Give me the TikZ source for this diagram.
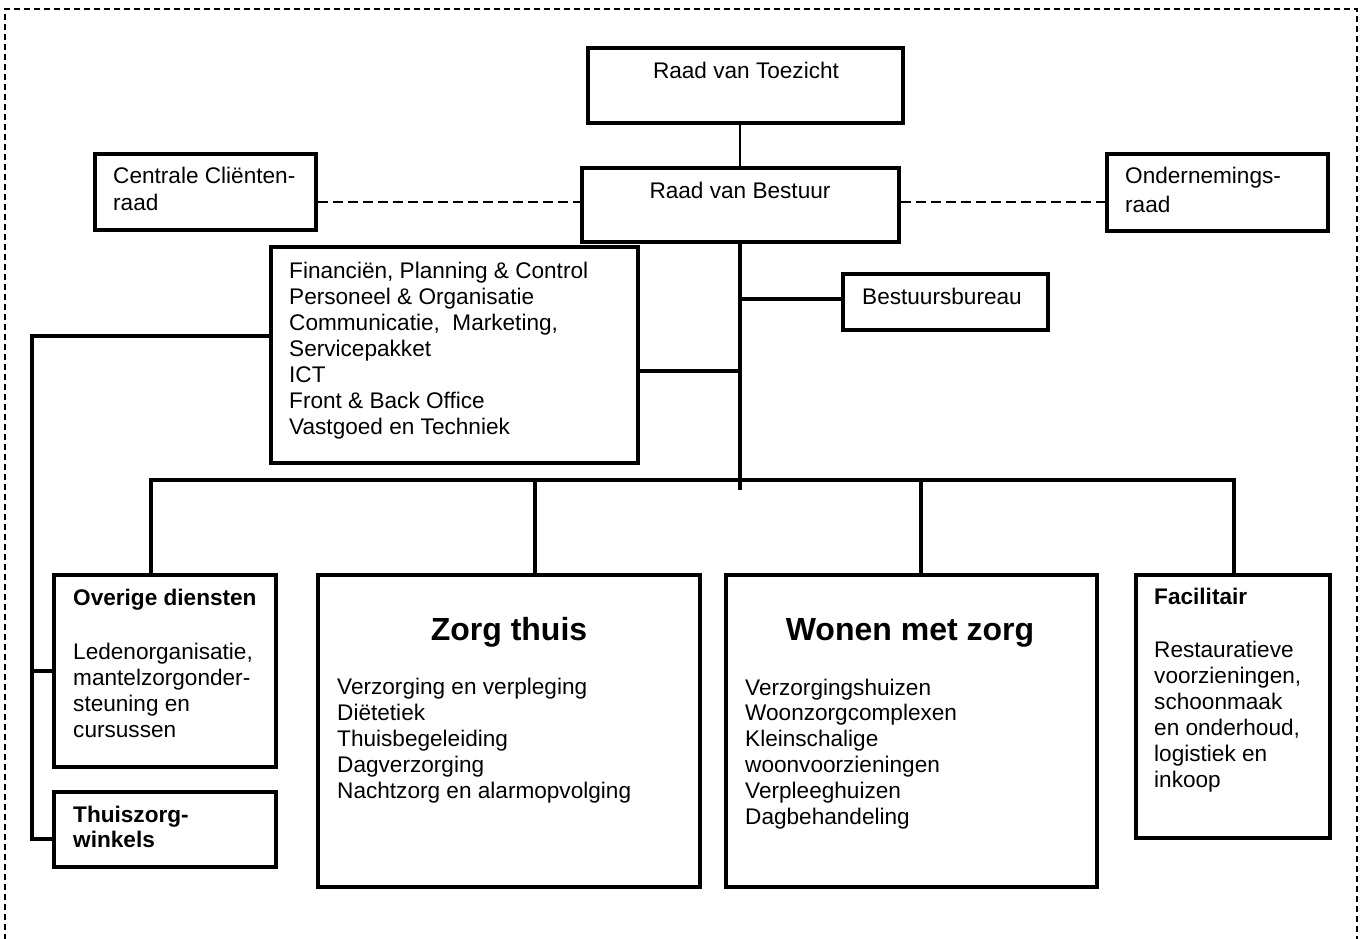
\documentclass[tikz,border=0pt]{standalone}
\usepackage{fontspec}
\setmainfont{Liberation Sans}
\begin{document}
\begin{tikzpicture}[x=1pt,y=-1pt,
 box/.style={draw, line width=3.2pt, rectangle, inner sep=0pt},
 con/.style={line width=3.2pt},
 thinline/.style={line width=1.3pt},
 dcon/.style={line width=1.3pt, dash pattern=on 10pt off 5pt},
 txt/.style={anchor=base west, inner sep=0pt, align=left, font=\fontsize{22.6}{26}\selectfont},
 btxt/.style={anchor=base west, inner sep=0pt, align=left, font=\fontsize{22.6}{25}\selectfont\bfseries},
 ctxt/.style={anchor=base, inner sep=0pt, font=\fontsize{22.6}{26}\selectfont},
 big/.style={anchor=base, inner sep=0pt, font=\fontsize{32}{38}\selectfont\bfseries},
]
\useasboundingbox (0,0) rectangle (1366,939);
\clip (0,0) rectangle (1366,939);
\draw[line width=1.2pt, dash pattern=on 6pt off 4pt] (5,960) -- (5,9) -- (1357,9) -- (1357,960);

% boxes
\node[box, minimum width=315pt, minimum height=75pt] (rvt) at (745.5,85.5) {};
\node[box, minimum width=317pt, minimum height=74pt] (rvb) at (740.5,205) {};
\node[box, minimum width=221pt, minimum height=76pt] (ccr) at (205.5,192) {};
\node[box, minimum width=221pt, minimum height=77pt] (onr) at (1217.5,192.5) {};
\node[box, minimum width=205pt, minimum height=56pt] (bb) at (945.5,302) {};
\node[box, minimum width=367pt, minimum height=216pt] (staff) at (454.5,355) {};
\node[box, minimum width=222pt, minimum height=192pt] (ov) at (165,671) {};
\node[box, minimum width=222pt, minimum height=75pt] (tz) at (165,829.5) {};
\node[box, minimum width=382pt, minimum height=312pt] (zt) at (509,731) {};
\node[box, minimum width=371pt, minimum height=312pt] (wz) at (911.5,731) {};
\node[box, minimum width=194pt, minimum height=263pt] (fac) at (1233,706.5) {};

% connectors
\coordinate (sp) at (740,0);
\draw[thinline] (rvt.south -| sp) -- (rvb.north -| sp);
\coordinate (dl) at (0,202);
\draw[dcon] (ccr.east |- dl) -- (rvb.west |- dl);
\draw[dcon] (rvb.east |- dl) -- (onr.west |- dl);
\coordinate (spE) at (740,490);
\draw[con] (rvb.south -| sp) -- (spE);
\coordinate (bbl) at (740,299);
\draw[con] (bbl) -- (bb.west |- bbl);
\coordinate (stl) at (740,371);
\draw[con] (staff.east |- stl) -- (stl);
\coordinate (bL) at (151,480);
\coordinate (bR) at (1234,480);
\draw[con] (ov.north -| bL) -- (bL) -- (bR) -- (fac.north -| bR);
\coordinate (zc) at (535,480);
\coordinate (wc) at (921,480);
\draw[con] (zc) -- (zt.north -| zc);
\draw[con] (wc) -- (wz.north -| wc);
\coordinate (lt) at (32,336);
\coordinate (lm) at (32,671);
\coordinate (lb) at (32,839);
\draw[con] (staff.west |- lt) -- (lt) -- (lb) -- (tz.west |- lb);
\draw[con] (lm) -- (ov.west |- lm);

% texts (multi-line nodes are placed by the baseline of their last line)
\node[ctxt] (t1) at (746,79) {Raad van Toezicht};
\node[ctxt] (t2) at (740,199) {Raad van Bestuur};
\node[txt, font=\fontsize{22.6}{27}\selectfont] (t3) at (113,211) {Centrale Cliënten-\\raad};
\node[txt, font=\fontsize{22.6}{29}\selectfont] (t4) at (1125,212) {Ondernemings-\\raad};
\node[txt] (t5) at (862,304) {Bestuursbureau};
\node[txt] (t6) at (289,434) {Financiën, Planning \& Control\\Personeel \& Organisatie\\Communicatie,\ \ Marketing,\\Servicepakket\\ICT\\Front \& Back Office\\Vastgoed en Techniek};
\node[btxt] (t7) at (73,605) {Overige diensten};
\node[txt] (t8) at (73,737) {Ledenorganisatie,\\mantelzorgonder-\\steuning en\\cursussen};
\node[btxt] (t9) at (73,847) {Thuiszorg-\\winkels};
\node[big] (t10) at (509,640) {Zorg thuis};
\node[txt, font=\fontsize{22.6}{25.8}\selectfont] (t11) at (337,798) {Verzorging en verpleging\\Diëtetiek\\Thuisbegeleiding\\Dagverzorging\\Nachtzorg en alarmopvolging};
\node[big] (t12) at (910,640) {Wonen met zorg};
\node[txt, font=\fontsize{22.6}{25.8}\selectfont] (t13) at (745,824) {Verzorgingshuizen\\Woonzorgcomplexen\\Kleinschalige\\woonvoorzieningen\\Verpleeghuizen\\Dagbehandeling};
\node[btxt] (t14) at (1154,604) {Facilitair};
\node[txt] (t15) at (1154,787) {Restauratieve\\voorzieningen,\\schoonmaak\\en onderhoud,\\logistiek en\\inkoop};
\end{tikzpicture}
\end{document}
